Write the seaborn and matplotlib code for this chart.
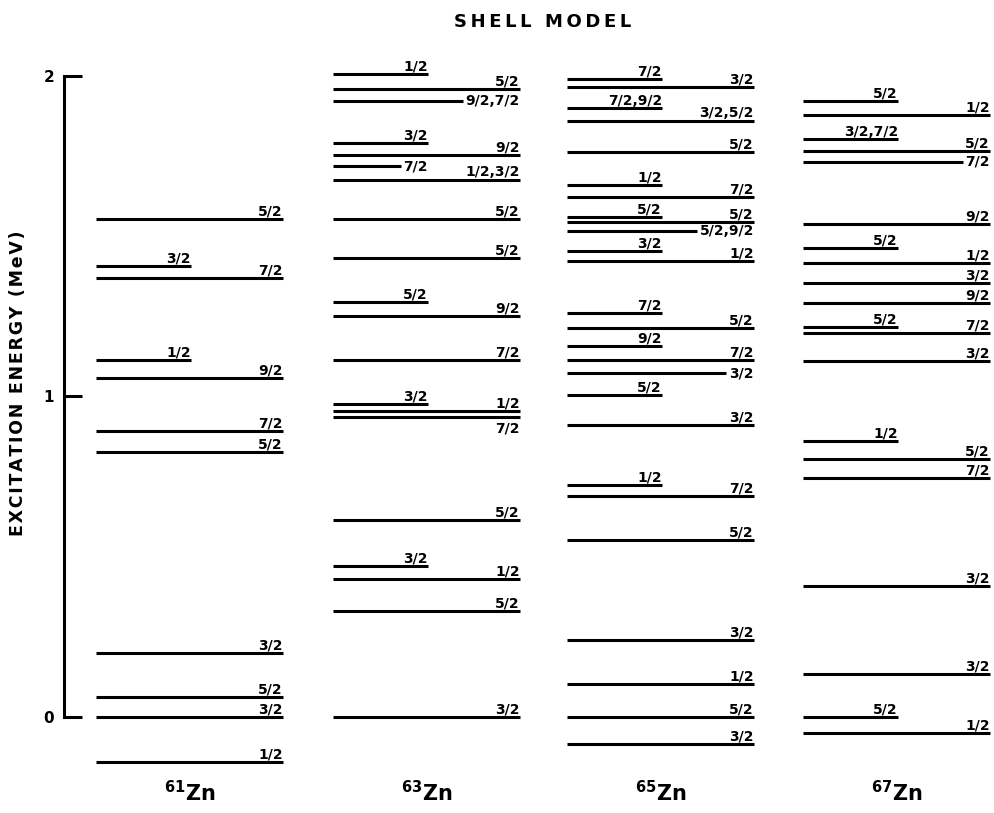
import numpy as np
import pandas as pd
import matplotlib
matplotlib.use("Agg")
import matplotlib.pyplot as plt
import seaborn as sns

# ======================
# Level data (MeV)
# kind: long / short line, label above ("long", "short"),
# label below the line ("below"), label inline at the end of the line ("side", "short_side")
# ======================
isotopes = ["61", "63", "65", "67"]

zn61_energy = [1.554, 1.407, 1.370, 1.114, 1.058, 0.892, 0.827, 0.200, 0.062, 0.000, -0.140]
zn61_spin = ["5/2", "3/2", "7/2", "1/2", "9/2", "7/2", "5/2", "3/2", "5/2", "3/2", "1/2"]
zn61_kind = ["long", "short", "long", "short", "long", "long", "long", "long", "long", "long", "long"]

zn63_energy = [2.006, 1.959, 1.922, 1.791, 1.754, 1.719, 1.676, 1.554, 1.432, 1.295,
               1.251, 1.114, 0.977, 0.955, 0.936, 0.615, 0.471, 0.431, 0.331, 0.000]
zn63_spin = ["1/2", "5/2", "9/2,7/2", "3/2", "9/2", "7/2", "1/2,3/2", "5/2", "5/2", "5/2",
             "9/2", "7/2", "3/2", "1/2", "7/2", "5/2", "3/2", "1/2", "5/2", "3/2"]
zn63_kind = ["short", "long", "side", "short", "long", "short_side", "long", "long", "long", "short",
             "long", "long", "short", "long", "below", "long", "short", "long", "long", "long"]

zn65_energy = [1.991, 1.966, 1.900, 1.860, 1.763, 1.660, 1.622, 1.560, 1.544, 1.516, 1.454, 1.423, 1.261,
               1.214, 1.158, 1.114, 1.073, 1.005, 0.911, 0.724, 0.690, 0.552, 0.240, 0.103, 0.000, -0.084]
zn65_spin = ["7/2", "3/2", "7/2,9/2", "3/2,5/2", "5/2", "1/2", "7/2", "5/2", "5/2", "5/2,9/2", "3/2", "1/2", "7/2",
             "5/2", "9/2", "7/2", "3/2", "5/2", "3/2", "1/2", "7/2", "5/2", "3/2", "1/2", "5/2", "3/2"]
zn65_kind = ["short", "long", "short", "long", "long", "short", "long", "short", "long", "side", "short", "long", "short",
             "long", "short", "long", "side", "short", "long", "short", "long", "long", "long", "long", "long", "long"]

zn67_energy = [1.922, 1.878, 1.803, 1.766, 1.732, 1.538, 1.463, 1.417, 1.354, 1.292,
               1.217, 1.198, 1.111, 0.861, 0.805, 0.746, 0.409, 0.134, 0.000, -0.050]
zn67_spin = ["5/2", "1/2", "3/2,7/2", "5/2", "7/2", "9/2", "5/2", "1/2", "3/2", "9/2",
             "5/2", "7/2", "3/2", "1/2", "5/2", "7/2", "3/2", "3/2", "5/2", "1/2"]
zn67_kind = ["short", "long", "short", "long", "side", "long", "short", "long", "long", "long",
             "short", "long", "long", "short", "long", "long", "long", "long", "short", "long"]

levels = pd.concat([
    pd.DataFrame({"iso": iso, "energy": e, "spin": s, "kind": k})
    for iso, e, s, k in [("61", zn61_energy, zn61_spin, zn61_kind),
                         ("63", zn63_energy, zn63_spin, zn63_kind),
                         ("65", zn65_energy, zn65_spin, zn65_kind),
                         ("67", zn67_energy, zn67_spin, zn67_kind)]
], ignore_index=True)

# ======================
# Layout (pixel-like x units)
# ======================
col_left = [96, 333, 567, 803]
col_width = 187
short_len = 95
lw = 2.2


def spaced(s, gap):
    # old lettering is widely spaced; pad between characters
    return gap.join(s)


sns.set_theme(style="white")
plt.rcParams["font.family"] = ["DejaVu Sans"]
plt.rcParams["font.weight"] = "bold"
plt.rcParams["mathtext.default"] = "bf"

fig = plt.figure(figsize=(9.95, 8.13), dpi=100)
ax = fig.add_axes([64 / 995, 0, 931 / 995, 1])
ax.set_xlim(64, 995)
ax.set_ylim(-0.2995, 2.237)
ax.set_facecolor("white")

# energy axis
sns.despine(ax=ax, top=True, right=True, bottom=True)
ax.spines["left"].set_bounds(0, 2)
ax.spines["left"].set_linewidth(lw)
ax.spines["left"].set_color("black")
ax.set_xticks([])
ax.set_yticks([0, 1, 2])
ax.set_yticklabels(["0", "1", "2"], fontsize=11, fontweight="bold")
ax.tick_params(axis="y", direction="in", length=13, width=lw, pad=7, colors="black", left=True)

fig.canvas.draw()
renderer = fig.canvas.get_renderer()
lab_kw = dict(fontsize=10, fontweight="bold", color="black", textcoords="offset points")

for i, iso in enumerate(isotopes):
    left = col_left[i]
    right = left + col_width
    short_end = left + short_len
    sub = levels[levels["iso"] == iso]
    for _, row in sub.iterrows():
        e, spin, kind = row["energy"], row["spin"], row["kind"]
        if kind in ("long", "short", "below"):
            end = right if kind != "short" else short_end
            ax.hlines(e, left, end, color="black", lw=lw)
            if kind == "below":
                ax.annotate(spin, (end, e), xytext=(0, -3), ha="right", va="top", **lab_kw)
            else:
                ax.annotate(spin, (end, e), xytext=(0, 2.5), ha="right", va="baseline", **lab_kw)
        else:
            end = right if kind == "side" else short_end
            t = ax.annotate(spin, (end, e), xytext=(0, 0), ha="right", va="center", **lab_kw)
            bb = t.get_window_extent(renderer)
            x0 = ax.transData.inverted().transform((bb.x0, bb.y0))[0]
            ax.hlines(e, left, x0 - 3, color="black", lw=lw)

    # isotope name under each column
    ax.text(left + col_width / 2, -0.237, r"$^{%s}$Zn" % iso, ha="center", va="center",
            fontsize=15, fontweight="bold", color="black")

fig.text(543 / 995, 1 - 22 / 813, spaced("SHELL MODEL", "\u2009"), ha="center", va="center",
         fontsize=13, fontweight="bold", color="black")
fig.text(18 / 995, 1 - 383 / 813, spaced("EXCITATION ENERGY (MeV)", "\u200a"), rotation=90,
         ha="center", va="center", fontsize=12.5, fontweight="bold", color="black")

fig.savefig("out.png", dpi=100, facecolor="white")
